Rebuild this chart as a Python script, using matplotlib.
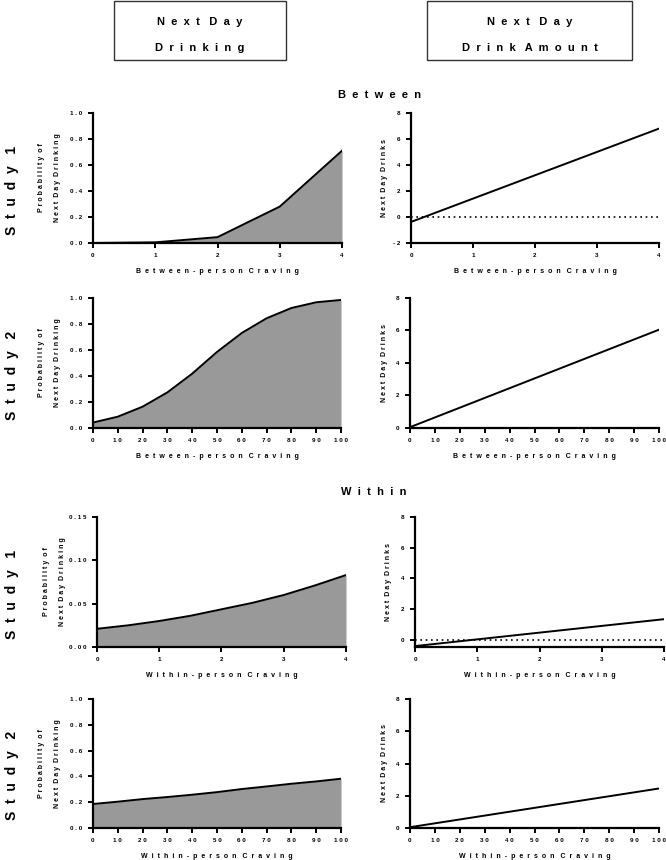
import matplotlib
matplotlib.use('Agg')
import matplotlib.pyplot as plt
from matplotlib.patches import Rectangle
from matplotlib.ticker import FuncFormatter

plt.rcParams['font.family'] = ['Liberation Sans', 'DejaVu Sans']
plt.rcParams['font.weight'] = 'bold'

# --- data ---
# Between, Study 1 (craving 0-4)
b1_x = [0, 1, 2, 3, 4]
b1_prob = [0.0, 0.005, 0.045, 0.28, 0.71]
b1_drinks = [-0.38, 6.8]

# Between, Study 2 (craving 0-100)
b2_x = [0, 10, 20, 30, 40, 50, 60, 70, 80, 90, 100]
b2_prob = [0.042, 0.087, 0.164, 0.274, 0.418, 0.585, 0.731, 0.844, 0.923, 0.967, 0.985]
b2_drinks = [0.05, 6.05]

# Within, Study 1 (craving 0-4)
w1_x = [0, 0.5, 1, 1.5, 2, 2.5, 3, 3.5, 4]
w1_prob = [0.021, 0.025, 0.030, 0.036, 0.0435, 0.051, 0.060, 0.071, 0.083]
w1_drinks = [-0.4, 1.35]

# Within, Study 2 (craving 0-100)
w2_x = [0, 10, 20, 30, 40, 50, 60, 70, 80, 90, 100]
w2_prob = [0.186, 0.204, 0.224, 0.240, 0.258, 0.278, 0.302, 0.322, 0.343, 0.361, 0.382]
w2_drinks = [0.05, 2.45]

W, H = 666, 860


def sp(s, n=1):
    # prism-style letter spacing
    gap = ' ' * n
    return (gap + ' ').join(gap.join(w) for w in s.split(' '))


def style(ax, xlim, ylim, xticks, yticks, ydec):
    ax.set_xlim(*xlim)
    ax.set_ylim(*ylim)
    ax.set_xticks(xticks)
    ax.set_yticks(yticks)
    for s in ['top', 'right']:
        ax.spines[s].set_visible(False)
    for s in ['left', 'bottom']:
        ax.spines[s].set_linewidth(1.6)
    ax.tick_params(direction='out', length=3.5, width=1.4, labelsize=4.5, pad=4)
    ax.xaxis.set_major_formatter(FuncFormatter(lambda v, p: sp('%d' % v)))
    ax.yaxis.set_major_formatter(FuncFormatter(lambda v, p: sp(('%.' + str(ydec) + 'f') % v)))
    ax.set_facecolor('none')


def make_ax(fig, x0, x1, y0, y1):
    return fig.add_axes([x0 / W, 1 - y1 / H, (x1 - x0) / W, (y1 - y0) / H])


fig = plt.figure(figsize=(6.66, 8.6), dpi=100)

# header boxes
for (x0, x1, lines) in [(114, 286, ['Next Day', 'Drinking']),
                        (427, 632, ['Next Day', 'Drink Amount'])]:
    fig.patches.append(Rectangle((x0 / W, 1 - 60 / H), (x1 - x0) / W, 59 / H,
                                 transform=fig.transFigure, fill=False,
                                 edgecolor='#333333', lw=1.0))
    cx = (x0 + x1) / 2 / W
    fig.text(cx, 1 - 22 / H, sp(lines[0], 2), ha='center', va='center', fontsize=8, weight='bold')
    fig.text(cx, 1 - 48 / H, sp(lines[1], 2), ha='center', va='center', fontsize=8, weight='bold')

fig.text(380 / W, 1 - 95 / H, sp('Between', 2), ha='center', va='center', fontsize=8, weight='bold')
fig.text(374 / W, 1 - 492 / H, sp('Within', 2), ha='center', va='center', fontsize=8, weight='bold')

rows = [
    # (y0, y1, left x0, x1, right x0, x1, x, prob, drinks, xmax, xticks, plims, pticks, pdec, dlims, dticks, dotted, study, xlabel)
    dict(y=(113, 243), lx=(93, 342), rx=(411, 659), x=b1_x, p=b1_prob, d=b1_drinks,
         xticks=[0, 1, 2, 3, 4], plim=(0, 1), pt=[0, 0.2, 0.4, 0.6, 0.8, 1.0], pdec=1,
         dlim=(-2, 8), dt=[-2, 0, 2, 4, 6, 8], dotted=True, study='Study 1',
         xlab='Between-person Craving'),
    dict(y=(298, 428), lx=(93, 341), rx=(410, 659), x=b2_x, p=b2_prob, d=b2_drinks,
         xticks=list(range(0, 101, 10)), plim=(0, 1), pt=[0, 0.2, 0.4, 0.6, 0.8, 1.0], pdec=1,
         dlim=(0, 8), dt=[0, 2, 4, 6, 8], dotted=False, study='Study 2',
         xlab='Between-person Craving'),
    dict(y=(517, 647), lx=(97, 346), rx=(415, 664), x=w1_x, p=w1_prob, d=w1_drinks,
         xticks=[0, 1, 2, 3, 4], plim=(0, 0.15), pt=[0, 0.05, 0.10, 0.15], pdec=2,
         dlim=(-0.46, 8), dt=[0, 2, 4, 6, 8], dotted=True, study='Study 1',
         xlab='Within-person Craving'),
    dict(y=(699, 828), lx=(93, 341), rx=(410, 659), x=w2_x, p=w2_prob, d=w2_drinks,
         xticks=list(range(0, 101, 10)), plim=(0, 1), pt=[0, 0.2, 0.4, 0.6, 0.8, 1.0], pdec=1,
         dlim=(0, 8), dt=[0, 2, 4, 6, 8], dotted=False, study='Study 2',
         xlab='Within-person Craving'),
]

for r in rows:
    y0, y1 = r['y']
    xmax = r['x'][-1]

    # probability panel
    ax = make_ax(fig, r['lx'][0], r['lx'][1], y0, y1)
    ax.fill_between(r['x'], r['p'], 0, color='#999999', lw=0)
    ax.plot(r['x'], r['p'], color='black', lw=1.4)
    style(ax, (0, xmax), r['plim'], r['xticks'], r['pt'], r['pdec'])
    ax.set_xlabel(sp(r['xlab'], 2), fontsize=5, weight='bold', labelpad=7)
    lx = r['lx'][0]
    fig.text((lx - 51) / W, 1 - (y0 + y1) / 2 / H, sp('Probability of'), rotation=90,
             ha='center', va='center', fontsize=5, weight='bold')
    fig.text((lx - 35) / W, 1 - (y0 + y1) / 2 / H, sp('Next Day Drinking'), rotation=90,
             ha='center', va='center', fontsize=5, weight='bold')
    fig.text(12 / W, 1 - ((y0 + y1) / 2 + 12) / H, sp(r['study'], 2), rotation=90,
             ha='center', va='center', fontsize=10, weight='bold')

    # drinks panel
    ax2 = make_ax(fig, r['rx'][0], r['rx'][1], y0, y1)
    if r['dotted']:
        ax2.axhline(0, color='black', lw=1.2, ls=(0, (1, 2.2)))
    ax2.plot([0, xmax], r['d'], color='black', lw=1.4)
    style(ax2, (0, xmax), r['dlim'], r['xticks'], r['dt'], 0)
    ax2.set_xlabel(sp(r['xlab'], 2), fontsize=5, weight='bold', labelpad=7)
    fig.text((r['rx'][0] - 26) / W, 1 - (y0 + y1) / 2 / H, sp('Next Day Drinks'), rotation=90,
             ha='center', va='center', fontsize=5, weight='bold')

fig.savefig('out.png', dpi=100)
